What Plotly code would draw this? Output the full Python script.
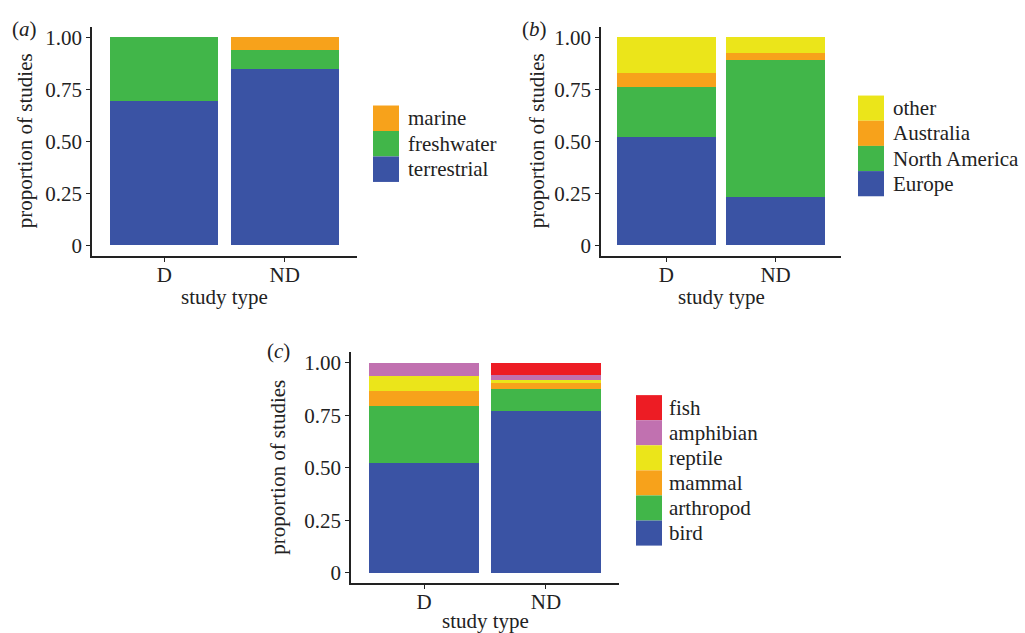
import plotly.graph_objects as go

W, H = 1025, 633

study_types = ["D", "ND"]

# Panel (a): habitat
habitat_names = ["terrestrial", "freshwater", "marine"]
habitat_values = {
    "terrestrial": [0.695, 0.849],
    "freshwater": [0.305, 0.089],
    "marine": [0.0, 0.062],
}
habitat_colors = {"terrestrial": "#3A53A4", "freshwater": "#41B649", "marine": "#F7A21B"}

# Panel (b): region
region_names = ["Europe", "North America", "Australia", "other"]
region_values = {
    "Europe": [0.520, 0.232],
    "North America": [0.240, 0.657],
    "Australia": [0.069, 0.036],
    "other": [0.171, 0.075],
}
region_colors = {"Europe": "#3A53A4", "North America": "#41B649", "Australia": "#F7A21B", "other": "#EBE51A"}

# Panel (c): taxon
taxon_names = ["bird", "arthropod", "mammal", "reptile", "amphibian", "fish"]
taxon_values = {
    "bird": [0.524, 0.770],
    "arthropod": [0.269, 0.103],
    "mammal": [0.074, 0.030],
    "reptile": [0.068, 0.013],
    "amphibian": [0.065, 0.024],
    "fish": [0.0, 0.060],
}
taxon_colors = {"bird": "#3A53A4", "arthropod": "#41B649", "mammal": "#F7A21B",
                "reptile": "#EBE51A", "amphibian": "#C171B0", "fish": "#ED1C24"}

y_tickvals = [0, 0.25, 0.5, 0.75, 1.0]
y_ticktext = ["0", "0.25", "0.50", "0.75", "1.00"]

FONT = "Liberation Serif"
FS = 21

fig = go.Figure()

panels = [
    ("x", "y", habitat_names, habitat_values, habitat_colors),
    ("x2", "y2", region_names, region_values, region_colors),
    ("x3", "y3", taxon_names, taxon_values, taxon_colors),
]
for xa, ya, names, vals, cols in panels:
    for n in names:
        fig.add_trace(go.Bar(
            x=study_types, y=vals[n], name=n, xaxis=xa, yaxis=ya,
            marker=dict(color=cols[n], line=dict(width=0)),
            width=0.9, showlegend=False, hoverinfo="x+y+name",
        ))

def px_x(p):
    return p / W

def px_y(p):
    return 1 - p / H

# pixel layouts: (left, right, top, bottom)
boxes = {
    "a": (92, 357, 26, 256),
    "b": (601, 841, 26, 256),
    "c": (351, 619, 353, 585),
}

def xaxis_cfg(box):
    l, r, t, b = box
    return dict(domain=[px_x(l), px_x(r)], range=[-0.6, 1.6], type="category",
                showline=True, linecolor="#222", linewidth=1.6, mirror=False,
                ticks="outside", ticklen=4, tickcolor="#222", tickwidth=1.4,
                showgrid=False, zeroline=False, fixedrange=True,
                tickfont=dict(family=FONT, size=FS, color="#222"),
                ticklabelstandoff=-5)

def yaxis_cfg(box):
    l, r, t, b = box
    return dict(domain=[px_y(b), px_y(t)], range=[-0.05, 1.05],
                tickvals=y_tickvals, ticktext=y_ticktext,
                showline=True, linecolor="#222", linewidth=1.6,
                ticks="outside", ticklen=4, tickcolor="#222", tickwidth=1.4,
                showgrid=False, zeroline=False, fixedrange=True,
                tickfont=dict(family=FONT, size=FS, color="#222"))

fig.update_layout(
    xaxis=dict(xaxis_cfg(boxes["a"]), anchor="y"), yaxis=dict(yaxis_cfg(boxes["a"]), anchor="x"),
    xaxis2=dict(xaxis_cfg(boxes["b"]), anchor="y2"), yaxis2=dict(yaxis_cfg(boxes["b"]), anchor="x2"),
    xaxis3=dict(xaxis_cfg(boxes["c"]), anchor="y3"), yaxis3=dict(yaxis_cfg(boxes["c"]), anchor="x3"),
)

annotations = []
shapes = []

def text_ann(x, y, text, xanchor="center", yanchor="middle", angle=0):
    annotations.append(dict(x=px_x(x), y=px_y(y), xref="paper", yref="paper", text=text,
                            showarrow=False, xanchor=xanchor, yanchor=yanchor, textangle=angle,
                            font=dict(family=FONT, size=FS, color="#222")))

# panel labels
text_ann(24, 28, "(<i>a</i>)")
text_ann(534, 28, "(<i>b</i>)")
text_ann(278, 352, "(<i>c</i>)")

# axis titles
for key, ytitle_x, xtitle_y in [("a", 25, 297), ("b", 537, 297), ("c", 278, 623)]:
    l, r, t, b = boxes[key]
    text_ann(ytitle_x, (t + b) / 2, "proportion of studies", angle=-90)
    text_ann((l + r) / 2, xtitle_y, "study type")

# legends drawn as key boxes + labels (top item = last stacked)
def legend(names, cols, x0, y0, key_w=26, key_h=25.6, text_x=None):
    for i, n in enumerate(reversed(names)):
        top = y0 + i * key_h
        shapes.append(dict(type="rect", xref="paper", yref="paper",
                           x0=px_x(x0), x1=px_x(x0 + key_w), y0=px_y(top + key_h), y1=px_y(top),
                           fillcolor=cols[n], line=dict(width=0)))
        text_ann(text_x, top + key_h / 2, n, xanchor="left")

legend(habitat_names, habitat_colors, 373, 105, text_x=406)
legend(region_names, region_colors, 858, 95, key_h=25.3, text_x=891)
legend(taxon_names, taxon_colors, 636, 396, key_h=25.2, text_x=667)

fig.update_layout(
    width=W, height=H, autosize=False,
    margin=dict(l=0, r=0, t=0, b=0),
    paper_bgcolor="white", plot_bgcolor="white",
    barmode="stack", bargap=0.1,
    annotations=annotations, shapes=shapes,
    showlegend=False,
    font=dict(family=FONT, size=FS, color="#222"),
)

fig.write_html("out.html", config={"displayModeBar": False})
